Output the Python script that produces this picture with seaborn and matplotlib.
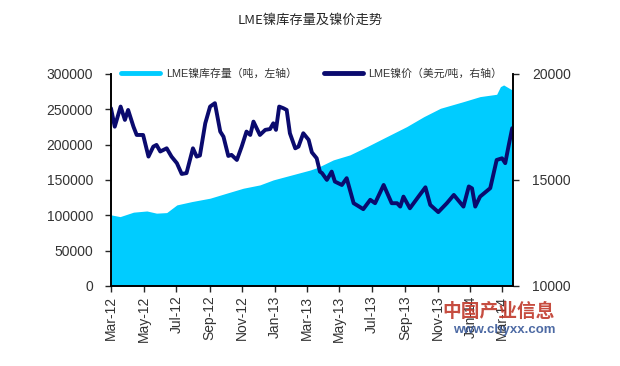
import pandas as pd
import numpy as np
import matplotlib
matplotlib.use("Agg")
import matplotlib.pyplot as plt
import seaborn as sns

# LME nickel stock (tonnes, left axis)
stock_dates = ["2012-03-01", "2012-03-18", "2012-04-12", "2012-05-07", "2012-05-25",
               "2012-06-13", "2012-07-02", "2012-07-30", "2012-09-02", "2012-10-03",
               "2012-11-03", "2012-12-04", "2012-12-29", "2013-02-04", "2013-03-08",
               "2013-03-23", "2013-04-20", "2013-05-21", "2013-06-22", "2013-07-23",
               "2013-09-04", "2013-10-06", "2013-11-06", "2013-12-19", "2014-01-19",
               "2014-02-19", "2014-02-26", "2014-03-04", "2014-03-20"]
stock = [100500, 98000, 104300, 106000, 102900,
         103700, 114600, 119300, 124100, 131200,
         138200, 142900, 150000, 157500, 164000,
         168000, 178300, 185400, 197100, 209000,
         225400, 239500, 251400, 260800, 267900,
         271200, 282000, 284400, 277300]

# LME nickel price (USD/t, right axis)
price_dates = ["2012-03-01", "2012-03-08", "2012-03-19", "2012-03-27", "2012-04-02",
               "2012-04-12", "2012-04-18", "2012-04-30", "2012-05-10", "2012-05-19",
               "2012-05-25", "2012-06-01", "2012-06-13", "2012-06-22", "2012-07-02",
               "2012-07-11", "2012-07-20", "2012-08-01", "2012-08-08", "2012-08-14",
               "2012-08-24", "2012-09-02", "2012-09-11", "2012-09-21", "2012-09-27",
               "2012-10-06", "2012-10-12", "2012-10-22", "2012-10-31", "2012-11-09",
               "2012-11-16", "2012-11-22", "2012-12-04", "2012-12-14", "2012-12-23",
               "2012-12-29", "2013-01-03", "2013-01-09", "2013-01-17", "2013-01-23",
               "2013-01-29", "2013-02-08", "2013-02-14", "2013-02-23", "2013-03-05",
               "2013-03-11", "2013-03-20", "2013-03-26", "2013-03-30", "2013-04-08",
               "2013-04-17", "2013-04-23", "2013-05-06", "2013-05-15", "2013-05-28",
               "2013-06-15", "2013-06-28", "2013-07-07", "2013-07-23", "2013-08-07",
               "2013-08-17", "2013-08-23", "2013-08-29", "2013-09-10", "2013-09-26",
               "2013-10-09", "2013-10-18", "2013-11-02", "2013-11-18", "2013-12-01",
               "2013-12-19", "2013-12-29", "2014-01-04", "2014-01-10", "2014-01-19",
               "2014-02-07", "2014-02-19", "2014-03-01", "2014-03-07", "2014-03-13",
               "2014-03-20"]
price = [18380, 17510, 18460, 17830, 18300,
         17510, 17120, 17120, 16100, 16570,
         16650, 16340, 16490, 16100, 15790,
         15280, 15320, 16490, 16100, 16150,
         17670, 18460, 18620, 17280, 17040,
         16130, 16180, 15940, 16570, 17280,
         17120, 17750, 17120, 17360, 17400,
         17670, 17360, 18460, 18380, 18300,
         17200, 16490, 16570, 17200, 16890,
         16300, 16020, 15390, 15320, 15000,
         15390, 14920, 14760, 15080, 13900,
         13620, 14060, 13900, 14760, 13900,
         13900, 13740, 14210, 13660, 14210,
         14650, 13820, 13480, 13900, 14290,
         13740, 14690, 14600, 13740, 14210,
         14610, 15940, 16020, 15790, 16570,
         17440]

stock_label = "LME镍库存量（吨，左轴）"
price_label = "LME镍价（美元/吨，右轴）"
title = "LME镍库存量及镍价走势"

df_stock = pd.DataFrame({"date": pd.to_datetime(stock_dates), "stock": stock})
df_price = pd.DataFrame({"date": pd.to_datetime(price_dates), "price": price})

sns.set_style("white")
plt.rcParams['font.family'] = ['Liberation Sans', 'Noto Sans CJK SC', 'DejaVu Sans']

fig = plt.figure(figsize=(6.2, 3.66), dpi=100)
ax = fig.add_axes([0.179, 0.219, 0.648, 0.579])
ax2 = ax.twinx()

stock_color = "#00CCFF"
price_color = "#0A0A6E"

ax.fill_between(df_stock["date"], df_stock["stock"], 0, color=stock_color, lw=0)
sns.lineplot(data=df_price, x="date", y="price", ax=ax2, color=price_color,
             lw=2.8, legend=False)

ax.set_ylim(0, 300000)
ax.set_yticks(np.arange(0, 300001, 50000))
ax.set_yticklabels([str(v) for v in range(0, 300001, 50000)], fontsize=10, color="#333333")
ax2.set_ylim(10000, 20000)
ax2.set_yticks([10000, 15000, 20000])
ax2.set_yticklabels(["10000", "15000", "20000"], fontsize=10, color="#333333")

ax.set_xlim(pd.Timestamp("2012-03-01"), pd.Timestamp("2014-03-21"))
ticks = pd.date_range("2012-03-01", "2014-03-01", freq="2MS")
ax.set_xticks(ticks)
ax.set_xticklabels([t.strftime("%b-%y") for t in ticks], rotation=90, fontsize=10,
                   color="#333333")

for a in (ax, ax2):
    a.set_xlabel("")
    a.set_ylabel("")
    a.spines["top"].set_visible(False)
    for s in ("left", "right", "bottom"):
        a.spines[s].set_color("black")
        a.spines[s].set_linewidth(1.2)
ax.tick_params(axis="y", direction="out", length=4, width=1, left=True, pad=9)
ax.tick_params(axis="x", direction="out", length=4, width=1, bottom=True, pad=3)
ax2.tick_params(axis="y", direction="out", length=4, width=1, right=True, pad=10)

handles = [plt.Line2D([], [], color=stock_color, lw=3.5),
           plt.Line2D([], [], color=price_color, lw=3.5)]
leg = ax2.legend(handles, [stock_label, price_label], ncol=2, frameon=False,
                 loc="center", bbox_to_anchor=(0.5, 1.0), fontsize=7.8,
                 handlelength=3.6, handletextpad=0.5, columnspacing=2.5)
for t in leg.get_texts():
    t.set_color("#333333")

fig.text(0.5, 0.945, title, ha="center", va="center", fontsize=9.5,
         family=['Noto Sans CJK SC', 'DejaVu Sans'])

# watermark
fig.text(0.805, 0.148, "中国产业信息", ha="center", va="center", fontsize=13.5,
         fontweight="bold", color="#C0392B", alpha=0.9,
         family=['Noto Sans CJK SC', 'DejaVu Sans'])
fig.text(0.813, 0.098, "www.chyxx.com", ha="center", va="center", fontsize=9.5,
         fontweight="bold", color="#3A5A9A", alpha=0.9)

fig.savefig("out.png", dpi=100)
